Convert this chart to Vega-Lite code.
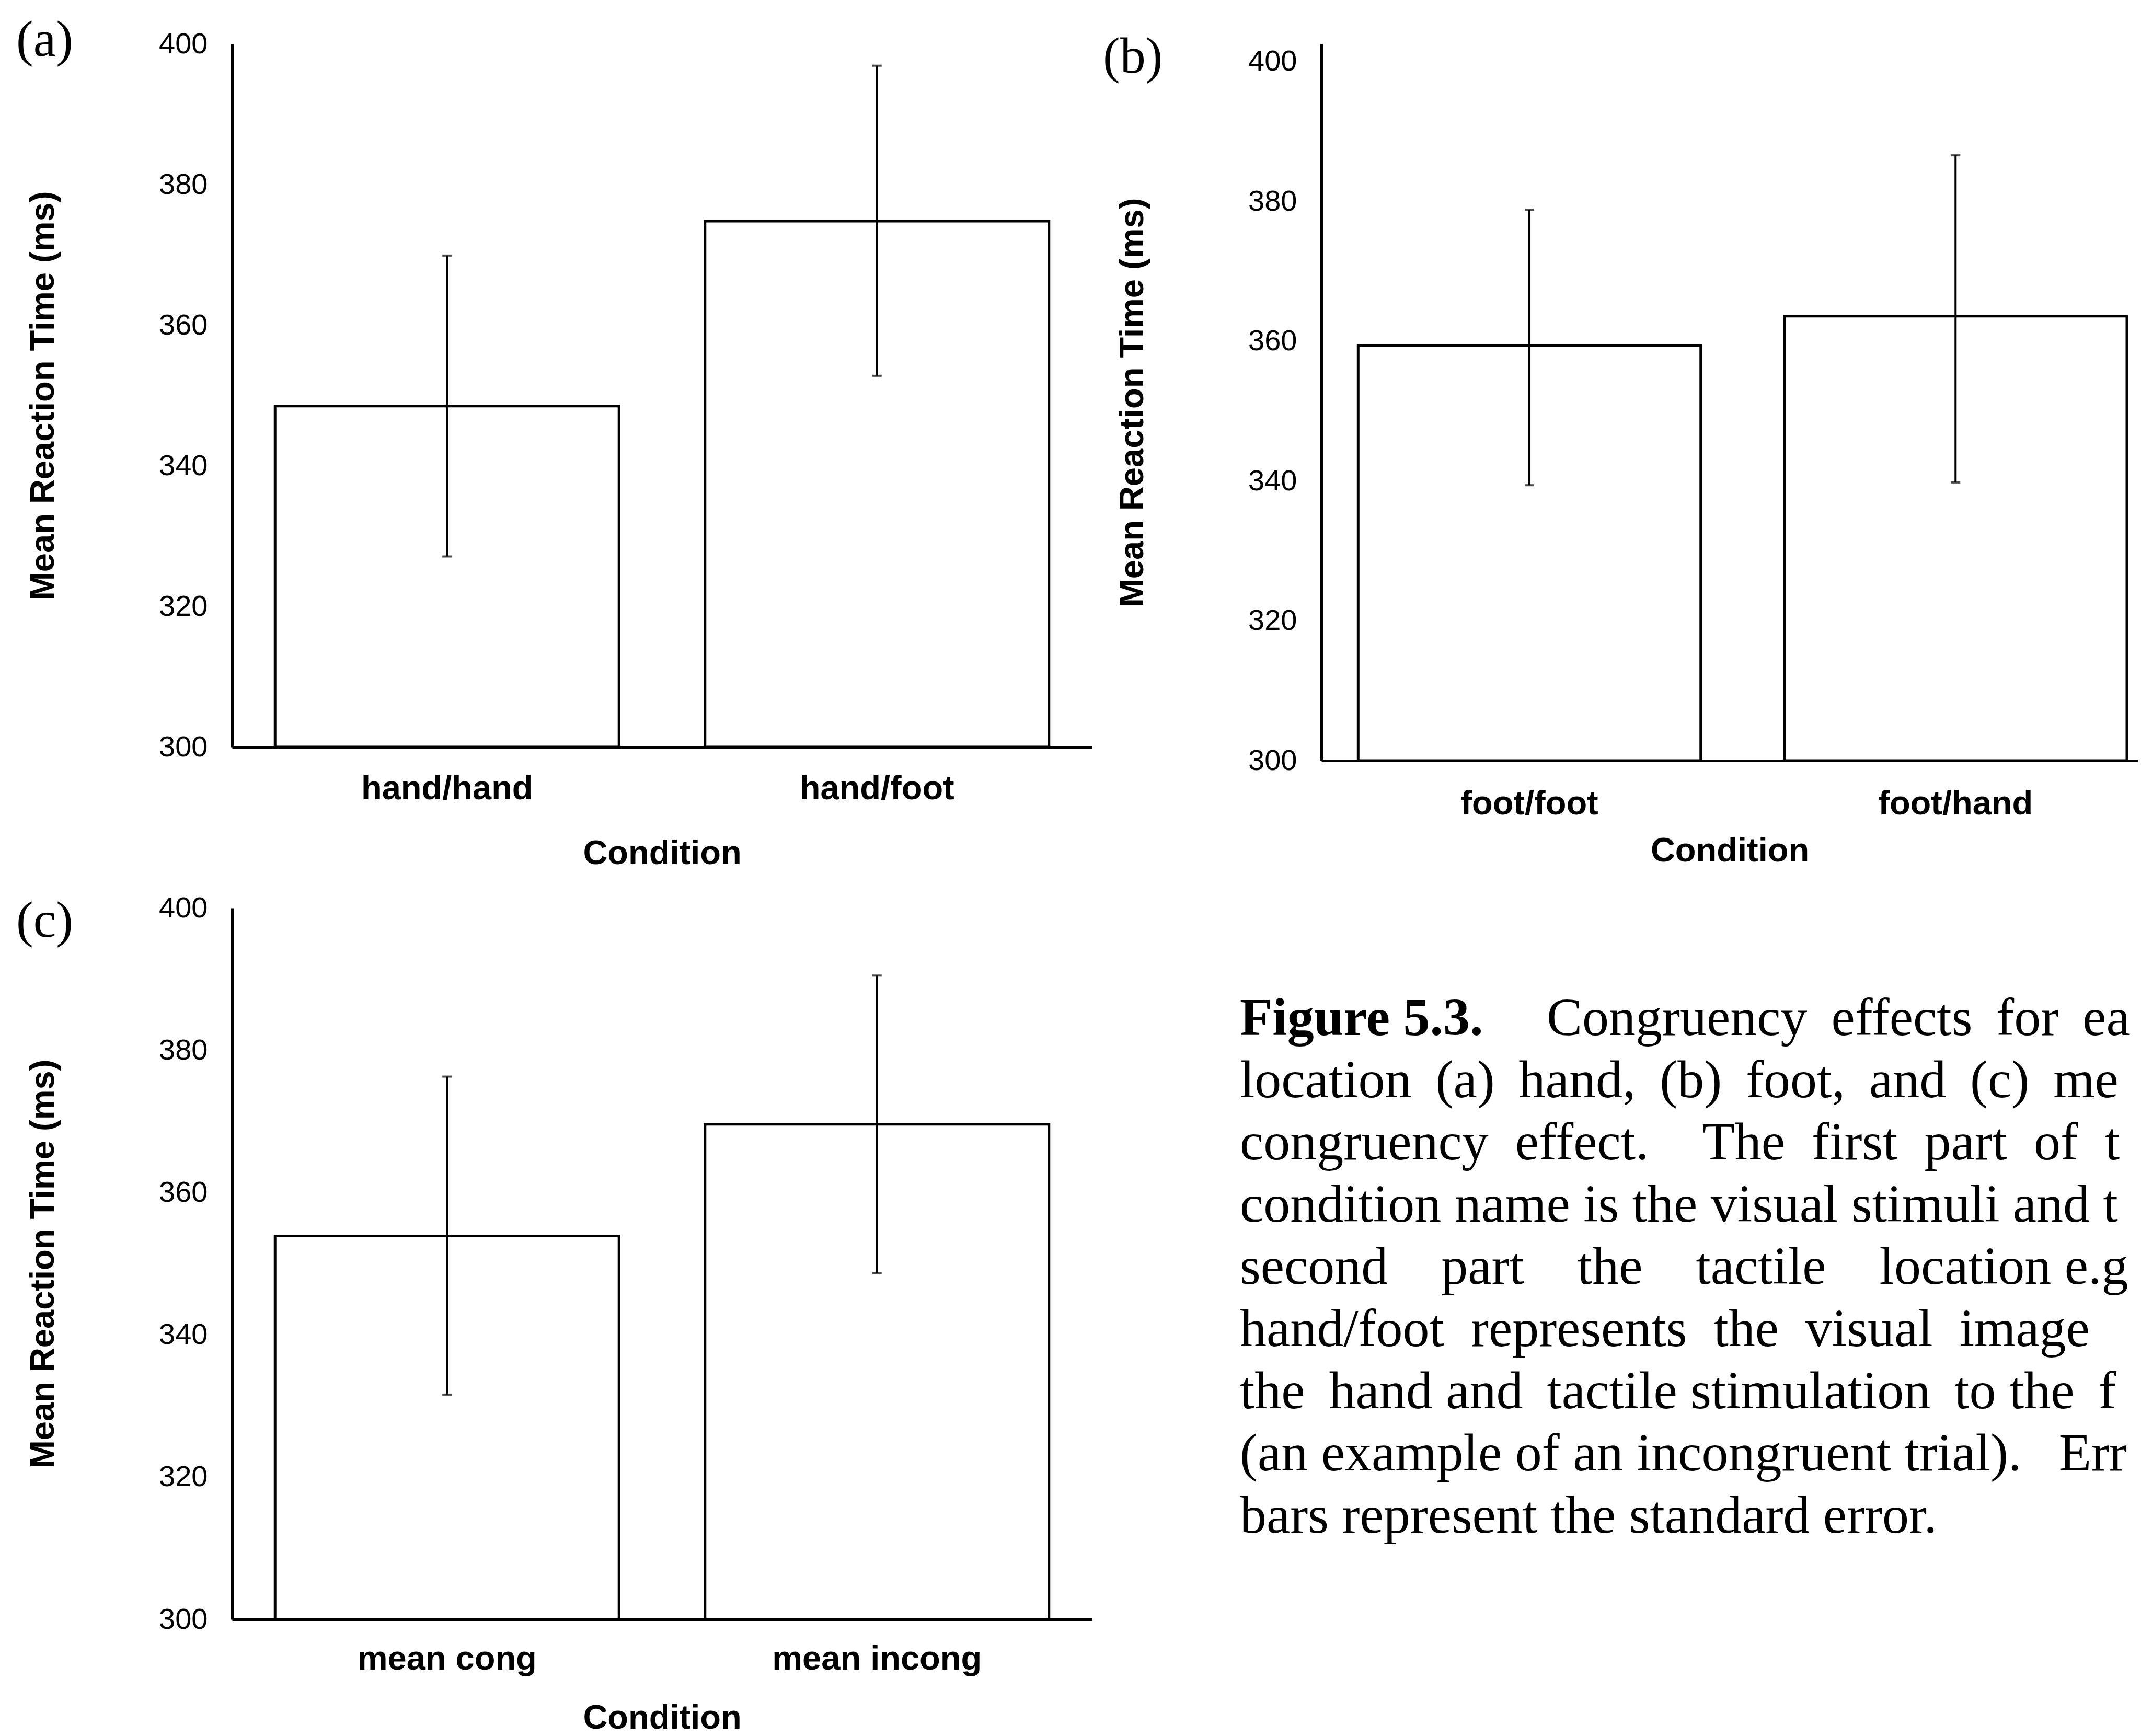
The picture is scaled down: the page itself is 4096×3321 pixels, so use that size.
{
  "$schema": "https://vega.github.io/schema/vega-lite/v6.json",
  "background": "white",
  "padding": {"left": 31, "top": 29, "right": 0, "bottom": 0},
  "columns": 2,
  "align": "each",
  "bounds": "flush",
  "spacing": {"row": 282, "column": 439},
  "datasets": {
    "rt": [
      {"panel": "a", "cond": "hand/hand", "mean": 348.5, "lo": 327.1, "hi": 369.9},
      {"panel": "a", "cond": "hand/foot", "mean": 374.8, "lo": 352.8, "hi": 396.9},
      {"panel": "b", "cond": "foot/foot", "mean": 359.4, "lo": 339.4, "hi": 378.8},
      {"panel": "b", "cond": "foot/hand", "mean": 363.6, "lo": 339.8, "hi": 386.6},
      {"panel": "c", "cond": "mean cong", "mean": 353.9, "lo": 331.6, "hi": 376.3},
      {"panel": "c", "cond": "mean incong", "mean": 369.6, "lo": 348.7, "hi": 390.5}
    ],
    "caption": [
      {"line": 1, "part": "label", "text": "Figure 5.3."},
      {"line": 1, "part": "lead", "text": "Congruency \u2009effects \u2009for \u2009each"},
      {"line": 2, "part": "body", "text": "location \u2009(a) \u2009hand, \u2009(b) \u2009foot, \u2009and \u2009(c) \u2009mean"},
      {"line": 3, "part": "body", "text": "congruency \u00a0effect. \u00a0\u00a0\u00a0The \u00a0first \u00a0part \u00a0of \u00a0the"},
      {"line": 4, "part": "body", "text": "condition name is the visual stimuli and the"},
      {"line": 5, "part": "body", "text": "second \u00a0\u00a0\u00a0part \u00a0\u00a0\u00a0the \u00a0\u00a0\u00a0tactile \u00a0\u00a0\u00a0location e.g."},
      {"line": 6, "part": "body", "text": "hand/foot \u00a0represents \u00a0the \u00a0visual \u00a0image \u00a0of"},
      {"line": 7, "part": "body", "text": "the \u2009hand and \u2009tactile stimulation \u2009to the \u2009foot"},
      {"line": 8, "part": "body", "text": "(an example of an incongruent trial). \u00a0\u2009Error"},
      {"line": 9, "part": "body", "text": "bars represent the standard error."}
    ]
  },
  "concat": [
    {
      "title": {"text": "(a)", "dx": -413, "offset": -72},
      "width": 1645,
      "height": 1345,
      "data": {"name": "rt"},
      "transform": [{"filter": "datum.panel === 'a'"}],
      "encoding": {
        "x": {"field": "cond", "type": "nominal", "sort": null,
              "scale": {"paddingInner": 0.2, "paddingOuter": 0.1},
              "axis": {"title": "Condition", "labelPadding": 48, "titlePadding": 60}}
      },
      "layer": [
        {"mark": {"type": "bar", "fill": "white", "stroke": "black", "strokeWidth": 5},
         "encoding": {
           "y": {"field": "mean", "type": "quantitative", "scale": {"domain": [300, 400], "nice": false, "zero": false},
                 "axis": {"title": "Mean Reaction Time (ms)", "values": [300, 320, 340, 360, 380, 400]}},
           "y2": {"datum": 300}}},
        {"mark": {"type": "rule", "color": "black", "strokeWidth": 4},
         "encoding": {"y": {"field": "lo", "type": "quantitative", "scale": {"domain": [300, 400], "nice": false, "zero": false}}, "y2": {"field": "hi"}}},
        {"mark": {"type": "tick", "color": "black", "size": 18, "thickness": 4},
         "encoding": {"y": {"field": "lo", "type": "quantitative", "scale": {"domain": [300, 400], "nice": false, "zero": false}}}},
        {"mark": {"type": "tick", "color": "black", "size": 18, "thickness": 4},
         "encoding": {"y": {"field": "hi", "type": "quantitative", "scale": {"domain": [300, 400], "nice": false, "zero": false}}}}
      ]
    },
    {
      "title": {"text": "(b)", "dx": -418, "offset": -76},
      "width": 1562,
      "height": 1371,
      "data": {"name": "rt"},
      "transform": [{"filter": "datum.panel === 'b'"}],
      "encoding": {
        "x": {"field": "cond", "type": "nominal", "sort": null,
              "scale": {"paddingInner": 0.196, "paddingOuter": 0.056, "align": 0.77},
              "axis": {"title": "Condition", "labelPadding": 51, "titlePadding": 26}}
      },
      "layer": [
        {"mark": {"type": "bar", "fill": "white", "stroke": "black", "strokeWidth": 5},
         "encoding": {
           "y": {"field": "mean", "type": "quantitative", "scale": {"domain": [300, 402.54], "nice": false, "zero": false},
                 "axis": {"title": "Mean Reaction Time (ms)", "values": [300, 320, 340, 360, 380, 400]}},
           "y2": {"datum": 300}}},
        {"mark": {"type": "rule", "color": "black", "strokeWidth": 4},
         "encoding": {"y": {"field": "lo", "type": "quantitative", "scale": {"domain": [300, 402.54], "nice": false, "zero": false}}, "y2": {"field": "hi"}}},
        {"mark": {"type": "tick", "color": "black", "size": 18, "thickness": 4},
         "encoding": {"y": {"field": "lo", "type": "quantitative", "scale": {"domain": [300, 402.54], "nice": false, "zero": false}}}},
        {"mark": {"type": "tick", "color": "black", "size": 18, "thickness": 4},
         "encoding": {"y": {"field": "hi", "type": "quantitative", "scale": {"domain": [300, 402.54], "nice": false, "zero": false}}}}
      ]
    },
    {
      "title": {"text": "(c)", "dx": -413, "offset": -104},
      "width": 1645,
      "height": 1361,
      "data": {"name": "rt"},
      "transform": [{"filter": "datum.panel === 'c'"}],
      "encoding": {
        "x": {"field": "cond", "type": "nominal", "sort": null,
              "scale": {"paddingInner": 0.2, "paddingOuter": 0.1},
              "axis": {"title": "Condition", "labelPadding": 44, "titlePadding": 49}}
      },
      "layer": [
        {"mark": {"type": "bar", "fill": "white", "stroke": "black", "strokeWidth": 5},
         "encoding": {
           "y": {"field": "mean", "type": "quantitative", "scale": {"domain": [300, 400], "nice": false, "zero": false},
                 "axis": {"title": "Mean Reaction Time (ms)", "values": [300, 320, 340, 360, 380, 400]}},
           "y2": {"datum": 300}}},
        {"mark": {"type": "rule", "color": "black", "strokeWidth": 4},
         "encoding": {"y": {"field": "lo", "type": "quantitative", "scale": {"domain": [300, 400], "nice": false, "zero": false}}, "y2": {"field": "hi"}}},
        {"mark": {"type": "tick", "color": "black", "size": 18, "thickness": 4},
         "encoding": {"y": {"field": "lo", "type": "quantitative", "scale": {"domain": [300, 400], "nice": false, "zero": false}}}},
        {"mark": {"type": "tick", "color": "black", "size": 18, "thickness": 4},
         "encoding": {"y": {"field": "hi", "type": "quantitative", "scale": {"domain": [300, 400], "nice": false, "zero": false}}}}
      ]
    },
    {
      "width": 1562,
      "height": 1361,
      "data": {"name": "caption"},
      "encoding": {
        "x": {"value": 0},
        "y": {"field": "line", "type": "quantitative", "scale": {"domain": [1, 9], "range": [243, 1195]}, "axis": null},
        "text": {"field": "text"}
      },
      "layer": [
        {"transform": [{"filter": "datum.part === 'label'"}],
         "mark": {"type": "text", "align": "left", "baseline": "alphabetic", "font": "Liberation Serif", "fontSize": 102, "fontWeight": "bold", "color": "black", "dx": -156}},
        {"transform": [{"filter": "datum.part === 'lead'"}],
         "mark": {"type": "text", "align": "left", "baseline": "alphabetic", "font": "Liberation Serif", "fontSize": 102, "fontWeight": "normal", "color": "black", "dx": 431, "limit": 1130, "ellipsis": "\u200b"}},
        {"transform": [{"filter": "datum.part === 'body'"}],
         "mark": {"type": "text", "align": "left", "baseline": "alphabetic", "font": "Liberation Serif", "fontSize": 102, "fontWeight": "normal", "color": "black", "dx": -156, "limit": 1716, "ellipsis": "\u200b"}}
      ]
    }
  ],
  "config": {
    "view": {"stroke": null},
    "font": "Liberation Sans",
    "axis": {"domainColor": "black", "domainWidth": 5, "ticks": false, "tickSize": 0, "grid": false,
             "labelColor": "black", "titleColor": "black", "labelFont": "Liberation Sans", "titleFont": "Liberation Sans", "labelLimit": 2000},
    "axisY": {"labelFontSize": 56, "labelPadding": 47, "titleFontSize": 65, "titleFontWeight": "bold", "titlePadding": 187, "labelFlush": false},
    "axisX": {"labelFontSize": 65, "labelFontWeight": "bold", "labelAngle": 0, "titleFontSize": 65, "titleFontWeight": "bold"},
    "title": {"font": "Liberation Serif", "fontSize": 98, "fontWeight": "normal", "anchor": "start", "frame": "group", "color": "black"}
  }
}
